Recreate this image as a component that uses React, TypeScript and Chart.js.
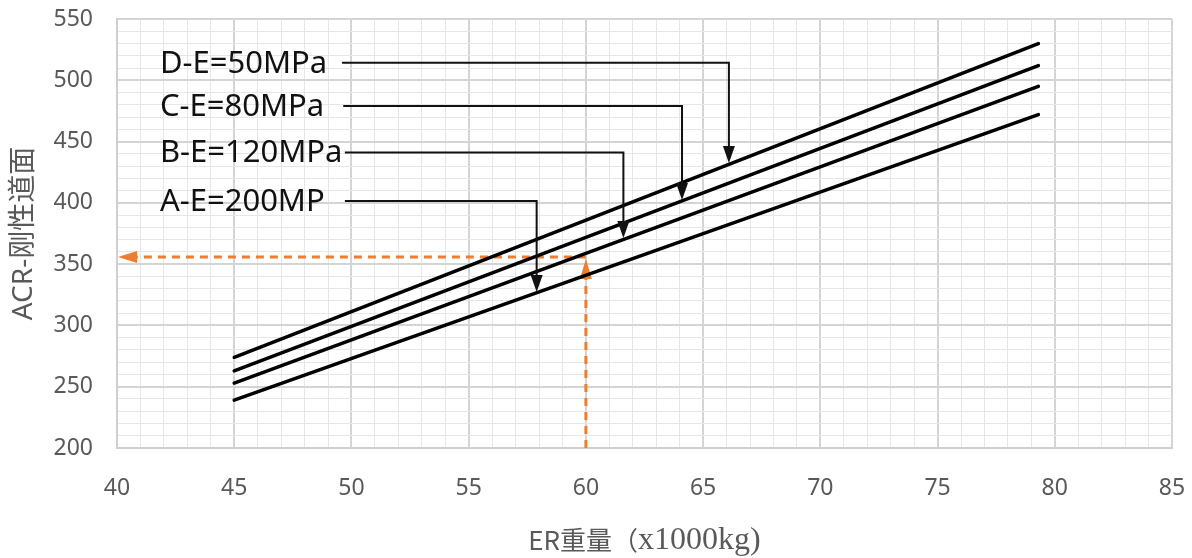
import React, { useEffect, useRef } from "react";
import { Chart, registerables } from "chart.js";

Chart.register(...registerables);

// ---- data ----
const erWeights = [45, 79.3];
const seriesD = [274, 530];
const seriesC = [263, 512];
const seriesB = [253, 495];
const seriesA = [239, 472];

const calloutLabels = ["D-E=50MPa", "C-E=80MPa", "B-E=120MPa", "A-E=200MP"];
const calloutLabelX = 41.83;
const calloutLineStartX = [49.6, 49.65, 49.72, 49.72];
const calloutY = [514.3, 479, 441, 401.5];
const calloutArrowX = [66.1, 64.1, 61.6, 57.9];
const calloutTipY = [432.5, 402.3, 371.3, 327.3];

const readoutX = 60;
const readoutY = 355.8;

const xMin = 40;
const xMax = 85;
const xMajor = 5;
const xMinor = 1;
const yMin = 200;
const yMax = 550;
const yMajor = 50;
const yMinor = 10;

const yTitle = "ACR-刚性道面";
const xTitleParts = ["ER重量", "（", "x1000kg)"];

const TICK_COLOR = "#595959";
const MAJOR_GRID = "#d4d4d4";
const MINOR_GRID = "#e6e6e6";
const ORANGE = "#ED7D31";

function arrowHead(
  ctx: CanvasRenderingContext2D,
  tipX: number,
  tipY: number,
  dx: number,
  dy: number,
  len: number,
  halfW: number
) {
  const bx = tipX - dx * len;
  const by = tipY - dy * len;
  ctx.beginPath();
  ctx.moveTo(tipX, tipY);
  ctx.lineTo(bx - dy * halfW, by + dx * halfW);
  ctx.lineTo(bx + dy * halfW, by - dx * halfW);
  ctx.closePath();
  ctx.fill();
}

const annotationPlugin = {
  id: "annotations",
  beforeDatasetsDraw(chart: any) {
    const { ctx, scales } = chart;
    const xs = scales.x;
    const ys = scales.y;
    const px = xs.getPixelForValue(readoutX);
    const py = ys.getPixelForValue(readoutY);
    const bottom = ys.getPixelForValue(yMin);
    const left = xs.getPixelForValue(xMin);
    ctx.save();
    ctx.strokeStyle = ORANGE;
    ctx.fillStyle = ORANGE;
    ctx.lineWidth = 3;
    ctx.setLineDash([8, 6]);
    ctx.beginPath();
    ctx.moveTo(px, bottom);
    ctx.lineTo(px, py + 14);
    ctx.stroke();
    ctx.beginPath();
    ctx.moveTo(px, py);
    ctx.lineTo(left + 16, py);
    ctx.stroke();
    ctx.setLineDash([]);
    arrowHead(ctx, px, py + 2, 0, -1, 20, 6);
    arrowHead(ctx, left + 1, py, -1, 0, 19, 6);
    ctx.restore();
  },
  afterDatasetsDraw(chart: any) {
    const { ctx, scales } = chart;
    const xs = scales.x;
    const ys = scales.y;
    ctx.save();
    ctx.strokeStyle = "#111";
    ctx.fillStyle = "#111";
    ctx.lineWidth = 2;
    ctx.font = "31px 'Noto Sans', 'Open Sans', sans-serif";
    ctx.textBaseline = "middle";
    ctx.textAlign = "left";
    calloutLabels.forEach((label, i) => {
      const y = ys.getPixelForValue(calloutY[i]);
      const lx = xs.getPixelForValue(calloutLabelX);
      ctx.fillStyle = "#111";
      ctx.fillText(label, lx, y + 1);
      const sx = xs.getPixelForValue(calloutLineStartX[i]);
      const ax = xs.getPixelForValue(calloutArrowX[i]);
      const ty = ys.getPixelForValue(calloutTipY[i]);
      ctx.beginPath();
      ctx.moveTo(sx, y);
      ctx.lineTo(ax, y);
      ctx.lineTo(ax, ty - 12);
      ctx.stroke();
      arrowHead(ctx, ax, ty, 0, 1, 17, 6);
    });
    ctx.restore();
  },
  afterDraw(chart: any) {
    const { ctx, chartArea } = chart;
    const fonts = [
      "26px 'Noto Sans CJK SC', sans-serif",
      "26px 'Noto Sans CJK SC', sans-serif",
      "32px 'Liberation Serif', serif",
    ];
    ctx.save();
    ctx.fillStyle = TICK_COLOR;
    ctx.textBaseline = "middle";
    ctx.textAlign = "left";
    let total = 0;
    const widths = xTitleParts.map((t, i) => {
      ctx.font = fonts[i];
      const w = ctx.measureText(t).width;
      total += w;
      return w;
    });
    let x = (chartArea.left + chartArea.right) / 2 - total / 2;
    const y = 540;
    xTitleParts.forEach((t, i) => {
      ctx.font = fonts[i];
      ctx.fillText(t, x, i === 2 ? y + 1 : y);
      x += widths[i];
    });
    ctx.restore();
  },
};

const zeroPadding = (s: any) => {
  s.paddingTop = 0;
  s.paddingBottom = 0;
  s.paddingLeft = 0;
  s.paddingRight = 0;
};

export default function App() {
  const canvasRef = useRef<HTMLCanvasElement | null>(null);

  useEffect(() => {
    const canvas = canvasRef.current;
    if (!canvas) return;
    const lineStyle = {
      borderColor: "#000",
      borderWidth: 3.5,
      pointRadius: 0,
      fill: false,
      tension: 0,
      borderCapStyle: "round" as const,
    };
    const toPts = (vals: number[]) => vals.map((v, i) => ({ x: erWeights[i], y: v }));
    const chart = new Chart(canvas, {
      type: "line",
      data: {
        datasets: [
          { label: "D", data: toPts(seriesD), ...lineStyle },
          { label: "C", data: toPts(seriesC), ...lineStyle },
          { label: "B", data: toPts(seriesB), ...lineStyle },
          { label: "A", data: toPts(seriesA), ...lineStyle },
        ],
      },
      options: {
        responsive: false,
        animation: false,
        devicePixelRatio: 1,
        layout: { padding: { top: 19, right: 20, left: 0, bottom: 0 } },
        plugins: { legend: { display: false }, tooltip: { enabled: false } },
        scales: {
          x: {
            type: "linear",
            min: xMin,
            max: xMax,
            afterFit: (s: any) => {
              s.height = 110;
              zeroPadding(s);
            },
            ticks: {
              stepSize: xMinor,
              autoSkip: false,
              maxRotation: 0,
              padding: 27,
              color: TICK_COLOR,
              font: { family: "'Noto Sans', sans-serif", size: 23 },
              callback: (v: any) => (Number(v) % xMajor === 0 ? String(v) : ""),
            },
            grid: {
              drawTicks: false,
              color: (c: any) => (c.tick && c.tick.value % xMajor === 0 ? MAJOR_GRID : MINOR_GRID),
              lineWidth: (c: any) => (c.tick && c.tick.value % xMajor === 0 ? 2 : 1),
            },
            border: { display: true, color: "#cfcfcf", width: 2 },
            title: { display: false },
          },
          y: {
            type: "linear",
            min: yMin,
            max: yMax,
            afterFit: (s: any) => {
              s.width = 117;
              zeroPadding(s);
            },
            ticks: {
              stepSize: yMinor,
              autoSkip: false,
              padding: 24,
              color: TICK_COLOR,
              font: { family: "'Noto Sans', sans-serif", size: 23 },
              callback: (v: any) => (Number(v) % yMajor === 0 ? String(v) : ""),
            },
            grid: {
              drawTicks: false,
              color: (c: any) => (c.tick && c.tick.value % yMajor === 0 ? MAJOR_GRID : MINOR_GRID),
              lineWidth: (c: any) => (c.tick && c.tick.value % yMajor === 0 ? 2 : 1),
            },
            border: { display: true, color: "#cfcfcf", width: 2 },
            title: {
              display: true,
              text: yTitle,
              color: TICK_COLOR,
              font: { family: "'Noto Sans', 'Noto Sans CJK SC', sans-serif", size: 28 },
              padding: { top: 7, bottom: 0 },
            },
          },
        },
      },
      plugins: [annotationPlugin],
    });
    return () => chart.destroy();
  }, []);

  return (
    <div style={{ position: "fixed", left: 0, top: 0, width: 1192, height: 558, background: "#fff" }}>
      <canvas ref={canvasRef} width={1192} height={558} style={{ display: "block" }} />
    </div>
  );
}
